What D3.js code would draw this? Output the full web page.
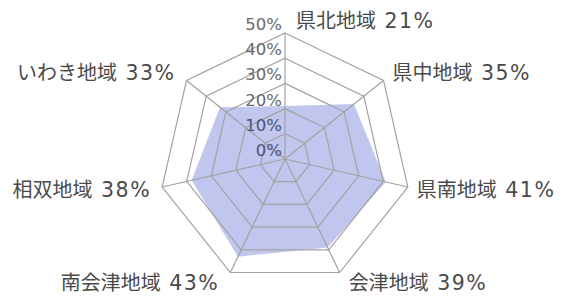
<!DOCTYPE html>
<html>
<head>
<meta charset="utf-8">
<script src="https://cdn.jsdelivr.net/npm/d3@7"></script>
<style>
  body { margin: 0; background: #fff; }
  text { font-family: "Noto Sans CJK JP", "Noto Sans", sans-serif; }
  .num { font-family: "DejaVu Sans", sans-serif; }
</style>
</head>
<body>
<div id="chart"></div>
<script>
const regions = ["県北地域", "県中地域", "県南地域", "会津地域", "南会津地域", "相双地域", "いわき地域"];
const values = [21, 35, 41, 39, 43, 38, 33];
const tickValues = [0, 10, 20, 30, 40, 50];

const width = 565, height = 296;
const cx = 285, cy = 159, radius = 126;

const svg = d3.select("#chart")
  .append("svg")
  .attr("width", width)
  .attr("height", height);

// radial scale and angle per axis
const r = d3.scaleLinear().domain([0, 50]).range([0, radius]);
const angle = d3.scalePoint().domain(regions).range([0, 2 * Math.PI * 6 / 7]);

function point(name, v) {
  const a = angle(name);
  return [cx + Math.sin(a) * r(v), cy - Math.cos(a) * r(v)];
}

const line = d3.line().curve(d3.curveLinearClosed);

// data area
svg.append("path")
  .datum(regions.map((d, i) => point(d, values[i])))
  .attr("d", line)
  .attr("fill", "#c1c6ee")
  .attr("stroke", "none");

// grid rings
svg.selectAll(".ring")
  .data(tickValues.filter(t => t > 0))
  .enter()
  .append("path")
  .attr("class", "ring")
  .attr("d", t => line(regions.map(d => point(d, t))))
  .attr("fill", "none")
  .attr("stroke", "#a2a2a2")
  .attr("stroke-width", 1.2);

// spokes
svg.selectAll(".spoke")
  .data(regions)
  .enter()
  .append("line")
  .attr("x1", cx)
  .attr("y1", cy)
  .attr("x2", d => point(d, 50)[0])
  .attr("y2", d => point(d, 50)[1])
  .attr("stroke", "#a2a2a2")
  .attr("stroke-width", 1.2);

// tick labels
svg.selectAll(".tick")
  .data(tickValues)
  .enter()
  .append("text")
  .attr("class", "num")
  .attr("x", cx - 3)
  .attr("y", t => cy - r(t) - 3)
  .attr("text-anchor", "end")
  .attr("font-size", 16.5)
  .attr("fill", t => t <= 10 ? "#4e5378" : "#6a6a6a")
  .text(t => t + "%");

// category labels
const labels = svg.selectAll(".label")
  .data(regions)
  .enter()
  .append("text")
  .attr("x", d => {
    const a = angle(d), p = point(d, 50);
    if (a === 0) return p[0] + 11;
    return p[0] + (Math.sin(a) > 0 ? 9 : -11);
  })
  .attr("y", d => point(d, 50)[1] - Math.cos(angle(d)) * 12 + 7)
  .attr("text-anchor", d => angle(d) === 0 || Math.sin(angle(d)) > 0 ? "start" : "end")
  .attr("font-size", 20)
  .attr("fill", "#4a4a4a");

labels.append("tspan").text(d => d + " ");
labels.append("tspan")
  .attr("class", "num")
  .attr("dx", 4)
  .attr("font-size", 20.5)
  .attr("letter-spacing", 1.5)
  .text((d, i) => values[i] + "%");
</script>
</body>
</html>
